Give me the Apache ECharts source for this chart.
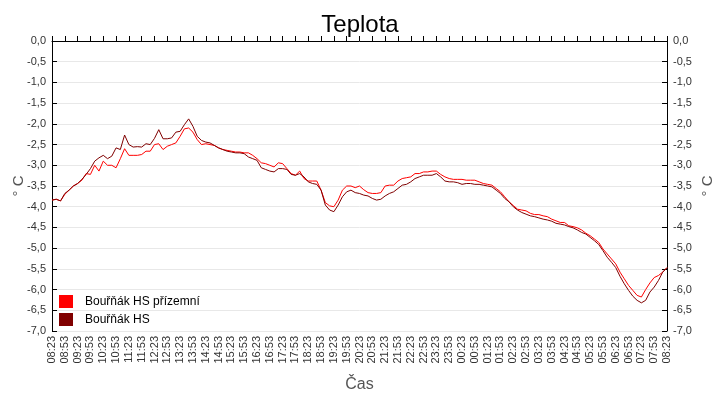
<!DOCTYPE html>
<html>
<head>
<meta charset="utf-8">
<script src="https://cdn.jsdelivr.net/npm/echarts@6/dist/echarts.min.js"></script>
<style>html,body{margin:0;padding:0;background:#fff}#c{width:720px;height:400px}</style>
</head>
<body>
<div id="c"></div>
<script>
// 10-minute samples starting 08:23
const START_LABEL = "08:23";
const STEP_MIN = 10;

const SERIES_NAMES = ["Bouřňák HS přízemní", "Bouřňák HS"];

const groundTemp = [
 -3.84,-3.82,-3.86,-3.70,-3.60,-3.50,-3.44,-3.36,-3.20,-3.22,
 -3.00,-3.14,-2.90,-3.00,-3.00,-3.06,-2.84,-2.60,-2.76,-2.76,
 -2.76,-2.74,-2.66,-2.66,-2.50,-2.48,-2.62,-2.54,-2.50,-2.46,
 -2.30,-2.12,-2.10,-2.20,-2.38,-2.50,-2.48,-2.50,-2.52,-2.58,
 -2.62,-2.64,-2.66,-2.68,-2.68,-2.70,-2.70,-2.76,-2.84,-2.94,
 -2.96,-3.00,-3.04,-2.94,-2.96,-3.08,-3.20,-3.24,-3.14,-3.32,
 -3.38,-3.38,-3.38,-3.60,-3.90,-3.98,-4.00,-3.84,-3.60,-3.50,
 -3.50,-3.54,-3.50,-3.59,-3.66,-3.68,-3.68,-3.66,-3.50,-3.48,
 -3.48,-3.38,-3.32,-3.30,-3.28,-3.20,-3.20,-3.16,-3.16,-3.14,
 -3.14,-3.22,-3.28,-3.32,-3.34,-3.34,-3.34,-3.36,-3.36,-3.36,
 -3.40,-3.44,-3.46,-3.48,-3.56,-3.64,-3.76,-3.88,-3.97,-4.06,
 -4.08,-4.10,-4.16,-4.19,-4.19,-4.22,-4.24,-4.30,-4.34,-4.38,
 -4.38,-4.46,-4.48,-4.51,-4.56,-4.64,-4.70,-4.78,-4.86,-5.02,
 -5.14,-5.26,-5.38,-5.58,-5.74,-5.90,-6.02,-6.14,-6.18,-6.00,
 -5.84,-5.71,-5.66,-5.58,-5.47
];

const stationTemp = [
 -3.84,-3.82,-3.86,-3.68,-3.60,-3.50,-3.44,-3.34,-3.22,-3.08,
 -2.90,-2.82,-2.76,-2.84,-2.78,-2.58,-2.62,-2.27,-2.50,-2.56,
 -2.55,-2.56,-2.48,-2.50,-2.35,-2.14,-2.36,-2.36,-2.34,-2.20,
 -2.18,-2.02,-1.88,-2.06,-2.30,-2.40,-2.44,-2.46,-2.52,-2.58,
 -2.62,-2.66,-2.68,-2.70,-2.70,-2.72,-2.80,-2.84,-2.88,-3.06,
 -3.10,-3.14,-3.16,-3.08,-3.08,-3.10,-3.22,-3.24,-3.20,-3.28,
 -3.40,-3.44,-3.46,-3.60,-3.96,-4.08,-4.12,-3.96,-3.76,-3.64,
 -3.60,-3.66,-3.68,-3.72,-3.74,-3.80,-3.84,-3.82,-3.74,-3.68,
 -3.64,-3.56,-3.48,-3.46,-3.40,-3.32,-3.28,-3.24,-3.24,-3.24,
 -3.20,-3.28,-3.38,-3.40,-3.40,-3.42,-3.46,-3.44,-3.44,-3.46,
 -3.46,-3.48,-3.50,-3.52,-3.60,-3.68,-3.80,-3.88,-4.00,-4.08,
 -4.14,-4.18,-4.22,-4.24,-4.27,-4.30,-4.32,-4.35,-4.40,-4.42,
 -4.44,-4.48,-4.51,-4.56,-4.62,-4.66,-4.74,-4.82,-4.91,-5.06,
 -5.22,-5.34,-5.47,-5.68,-5.86,-6.02,-6.16,-6.26,-6.32,-6.26,
 -6.06,-5.94,-5.78,-5.58,-5.47
];

// category labels (HH:MM) for each sample
const categories = [];
(function(){
  const p = START_LABEL.split(":");
  let m = parseInt(p[0],10)*60 + parseInt(p[1],10);
  for (let i = 0; i < stationTemp.length; i++) {
    const mm = (m + i*STEP_MIN) % 1440;
    const h = Math.floor(mm/60), mi = mm % 60;
    categories.push((h<10?"0":"")+h+":"+(mi<10?"0":"")+mi);
  }
})();

const FONT = "Liberation Sans, Arial, sans-serif";
const fmt = v => (v === 0 ? "0,0" : v.toFixed(1).replace(".", ","));

const yAxisBase = {
  type: "value", min: -7, max: 0, interval: 0.5,
  name: "° C", nameLocation: "middle", nameRotate: 90, nameMoveOverlap: false,
  nameTextStyle: { fontFamily: FONT, fontSize: 15, color: "#555" },
  axisLine: { show: true, lineStyle: { color: "#000", width: 1 } },
  axisTick: { show: true, inside: true, length: 5, lineStyle: { color: "#000" } },
  axisLabel: { formatter: fmt, fontFamily: FONT, fontSize: 11, color: "#333", margin: 6 },
  splitLine: { show: true, lineStyle: { color: "#e8e8e8", width: 1 } }
};

const chart = echarts.init(document.getElementById("c"), null, { renderer: "canvas" });
chart.setOption({
  animation: false,
  backgroundColor: "#fff",
  title: {
    text: "Teplota", left: "center", top: 8,
    textStyle: { fontFamily: FONT, fontSize: 24, fontWeight: "normal", color: "#000" }
  },
  grid: { left: 52, right: 53, top: 41, bottom: 69, containLabel: false, outerBoundsMode: "none" },
  legend: {
    orient: "vertical", left: 59, top: 295, padding: 0, itemWidth: 14, itemHeight: 13, itemGap: 5,
    icon: "rect",
    data: SERIES_NAMES,
    textStyle: { fontFamily: FONT, fontSize: 12, color: "#000", padding: [0,0,0,7] }
  },
  xAxis: {
    type: "category", data: categories, boundaryGap: false,
    name: "Čas", nameLocation: "middle", nameGap: 46, nameMoveOverlap: false,
    nameTextStyle: { fontFamily: FONT, fontSize: 16, color: "#555" },
    axisLine: { show: true, lineStyle: { color: "#000", width: 1 } },
    axisTick: { show: true, inside: true, length: 5, interval: 2, lineStyle: { color: "#000" } },
    axisLabel: { interval: 2, rotate: 90, fontFamily: FONT, fontSize: 11, color: "#333", margin: 5 },
    splitLine: { show: false }
  },
  yAxis: [
    Object.assign({}, yAxisBase, { position: "left", nameGap: 26 }),
    Object.assign({}, yAxisBase, { position: "right", nameGap: 33, splitLine: { show: false } })
  ],
  series: [
    {
      name: SERIES_NAMES[0], type: "line", data: groundTemp, yAxisIndex: 0,
      showSymbol: false, symbol: "none",
      lineStyle: { color: "#ff0000", width: 1 }, itemStyle: { color: "#ff0000" }, z: 2
    },
    {
      name: SERIES_NAMES[1], type: "line", data: stationTemp, yAxisIndex: 0,
      showSymbol: false, symbol: "none",
      lineStyle: { color: "#800000", width: 1 }, itemStyle: { color: "#800000" }, z: 3
    }
  ]
});
</script>
</body>
</html>
